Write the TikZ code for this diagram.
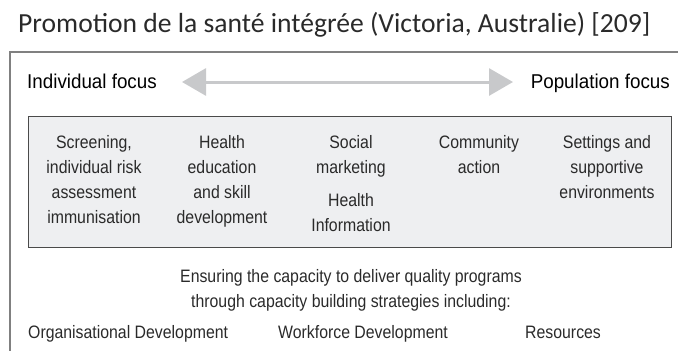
\documentclass[tikz,border=0pt]{standalone}
\usepackage{fontspec}
\usetikzlibrary{arrows.meta}
\setmainfont{Liberation Sans}
\newfontfamily\titlefont{Carlito}
\newfontfamily\condfont[FakeStretch=0.88]{Liberation Sans}
\newfontfamily\focusfont[FakeStretch=0.94]{Liberation Sans}
\definecolor{boxfill}{HTML}{EEEFF1}
\definecolor{boxline}{HTML}{4A4A4A}
\definecolor{arrowgray}{HTML}{C8C9CB}
\definecolor{framegray}{HTML}{808080}
\definecolor{txt}{HTML}{2A2A2A}
\tikzset{
  coltext/.style={font=\condfont\fontsize{18}{25}\selectfont, text=txt, align=center, inner sep=0pt, anchor=north},
  lowtext/.style={font=\condfont\fontsize{18}{25}\selectfont, text=txt, inner sep=0pt},
  focustext/.style={font=\focusfont\fontsize{20}{24}\selectfont, text=black, inner sep=0pt},
  frame/.style={draw=framegray, line width=1.3pt},
  innerbox/.style={draw=boxline, fill=boxfill, line width=1.4pt},
  spectrum/.style={draw=arrowgray, line width=3pt, {Triangle[width=27pt,length=24pt]}-{Triangle[width=27pt,length=24pt]}}
}
\begin{document}
\begin{tikzpicture}[x=1pt,y=-1pt]
\useasboundingbox (0,0) rectangle (678,351);
% title
\node[font=\titlefont\fontsize{27.6}{30}\selectfont, text=txt, inner sep=0pt, anchor=base west] (title) at (18,32) {Promotion de la santé intégrée (Victoria, Australie) [209]};
% outer frame
\draw[frame] (10,360) |- (690,52);
% focus labels
\node[focustext, anchor=base west] (indiv) at (27,88.5) {Individual focus};
\node[focustext, anchor=base east] (popul) at (670,88.5) {Population focus};
\coordinate (la) at (182,82);
\coordinate (ra) at (513,82);
\draw[spectrum] (la) -- (ra);
% inner box
\node[innerbox, minimum width=643pt, minimum height=131pt, inner sep=0pt, anchor=north west] (box) at (28,116) {};
\node[coltext] (c1) at (94,135.6) {Screening,\\individual risk\\assessment\\immunisation};
\node[coltext] (c2) at (222,135.6) {Health\\education\\and skill\\development};
\node[coltext] (c3) at (351,135.6) {Social\\marketing\\[8pt]Health\\Information};
\node[coltext] (c4) at (479,135.6) {Community\\action};
\node[coltext] (c5) at (607,135.6) {Settings and\\supportive\\environments};
% lower text
\node[lowtext, align=center, anchor=north] (ensure) at (351,269) {Ensuring the capacity to deliver quality programs\\through capacity building strategies including:};
\node[lowtext, anchor=base west] (od) at (28,338) {Organisational Development};
\node[lowtext, anchor=base west] (wd) at (278,338) {Workforce Development};
\node[lowtext, anchor=base west] (res) at (525,338) {Resources};
\end{tikzpicture}
\end{document}
